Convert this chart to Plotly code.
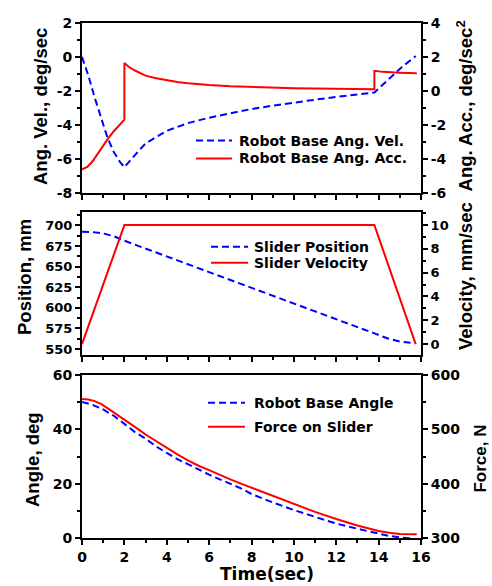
import plotly.graph_objects as go

# ---------------- data ----------------
# Robot base angular velocity (deg/sec)
vel_t = [0.0, 0.3, 0.6, 0.9, 1.2, 1.5, 1.8, 2.0, 2.3, 2.7, 3.0, 3.5, 4.0, 5.0, 6.0, 7.0,
         8.0, 9.0, 10.0, 11.0, 12.0, 13.0, 13.8, 14.5, 15.1, 15.75]
ang_vel = [0.0, -1.1, -2.4, -3.65, -4.75, -5.6, -6.2, -6.5, -6.05, -5.5, -5.1, -4.7, -4.35,
           -3.9, -3.58, -3.32, -3.07, -2.87, -2.68, -2.52, -2.36, -2.22, -2.1, -1.28, -0.6, 0.05]

# Robot base angular acceleration (deg/sec^2)
acc_t = [0.0, 0.25, 0.5, 0.75, 1.0, 1.25, 1.5, 1.75, 2.0, 2.0, 2.2, 2.5, 3.0, 3.5, 4.0, 4.5,
         5.0, 5.5, 6.0, 7.0, 8.0, 9.0, 10.0, 11.0, 12.0, 13.0, 13.8, 13.8, 14.2, 15.0, 15.8]
ang_acc = [-4.62, -4.48, -4.15, -3.7, -3.2, -2.77, -2.38, -2.02, -1.7, 1.65, 1.42, 1.2, 0.9,
           0.75, 0.63, 0.52, 0.45, 0.39, 0.35, 0.28, 0.23, 0.19, 0.16, 0.14, 0.12, 0.1, 0.09,
           1.18, 1.12, 1.07, 1.04]

# Slider position (mm) and velocity (mm/sec)
pos_t = [0.0, 0.5, 1.0, 1.5, 2.0, 3.0, 4.0, 5.0, 6.0, 7.0, 8.0, 9.0, 10.0, 11.0, 12.0, 13.0,
         13.8, 14.4, 15.0, 15.7]
slider_pos = [692.5, 692.0, 690.3, 687.0, 681.5, 672.0, 662.5, 653.0, 643.5, 634.0, 624.5,
              615.0, 605.5, 596.0, 587.0, 577.5, 569.0, 563.0, 559.0, 557.0]
sv_t = [0.0, 2.0, 13.8, 15.75]
slider_vel = [0.0, 10.0, 10.0, 0.0]

# Robot base angle (deg)
angle_t = [0.0, 0.5, 1.0, 1.5, 2.0, 2.5, 3.0, 3.5, 4.0, 4.5, 5.0, 5.5, 6.0, 6.5, 7.0, 7.5,
           8.0, 9.0, 10.0, 11.0, 12.0, 13.0, 14.0, 14.5, 15.0, 15.5]
base_angle = [50.1, 49.0, 47.3, 45.0, 42.0, 39.0, 36.6, 33.7, 31.3, 29.0, 27.2, 25.2, 23.3,
              21.6, 19.9, 18.3, 16.2, 13.1, 10.3, 7.8, 5.3, 3.4, 1.6, 0.75, 0.2, -0.1]

# Force on slider (N)
force_t = [0.0, 0.3, 0.6, 0.9, 1.2, 1.5, 1.8, 2.0, 2.3, 2.7, 3.0, 3.5, 4.0, 4.5, 5.0, 5.5,
           6.0, 6.5, 7.0, 7.5, 8.0, 9.0, 10.0, 11.0, 12.0, 13.0, 14.0, 14.5, 15.0, 15.4, 15.8]
force = [556, 555, 552, 547, 539, 531, 523, 519, 510, 499, 490.5, 478, 466, 454, 443, 433,
         425, 416, 408, 400, 392.5, 377.5, 362.5, 348, 335, 323, 313, 309.5, 307.5, 307, 307]

time_ticks = list(range(0, 17, 2))

BLUE = "#0000ff"
RED = "#ff0000"
DASH = "7px,4px"
TICK_FONT = dict(family="DejaVu Sans", size=14, color="black", weight="bold")
TITLE_FONT = dict(family="Liberation Sans", size=18.5, color="black")
LEG_FONT = dict(family="DejaVu Sans", size=14, color="black")

# ---------------- traces ----------------
fig = go.Figure()
fig.add_trace(go.Scatter(x=vel_t, y=ang_vel, xaxis="x", yaxis="y", mode="lines",
                         line=dict(color=BLUE, width=2, dash=DASH)))
fig.add_trace(go.Scatter(x=acc_t, y=ang_acc, xaxis="x", yaxis="y2", mode="lines",
                         line=dict(color=RED, width=2)))
fig.add_trace(go.Scatter(x=pos_t, y=slider_pos, xaxis="x2", yaxis="y3", mode="lines",
                         line=dict(color=BLUE, width=2, dash=DASH)))
fig.add_trace(go.Scatter(x=sv_t, y=slider_vel, xaxis="x2", yaxis="y4", mode="lines",
                         line=dict(color=RED, width=2)))
fig.add_trace(go.Scatter(x=angle_t, y=base_angle, xaxis="x3", yaxis="y5", mode="lines",
                         line=dict(color=BLUE, width=2, dash=DASH)))
fig.add_trace(go.Scatter(x=force_t, y=force, xaxis="x3", yaxis="y6", mode="lines",
                         line=dict(color=RED, width=2)))

# ---------------- axes ----------------
common = dict(showline=True, linewidth=2, linecolor="black", ticks="outside", ticklen=5,
              tickwidth=1.5, tickcolor="black", showgrid=False, zeroline=False,
              tickfont=TICK_FONT)


def xax(anchor, labels):
    return dict(common, domain=[0, 1], range=[0, 16], anchor=anchor, mirror=True,
                tickvals=time_ticks, ticktext=[str(v) for v in time_ticks],
                showticklabels=labels,
                minor=dict(dtick=1, ticks="outside", ticklen=3, tickcolor="black"))


def yax(dom, rng, vals, minor, side="left", overlay=None, anchor="x", size=14):
    d = dict(common, range=rng, tickvals=vals, ticktext=[f"{v:g}" for v in vals],
             side=side, anchor=anchor,
             tickfont=dict(TICK_FONT, size=size),
             minor=dict(dtick=minor, ticks="outside", ticklen=3, tickcolor="black"))
    if overlay:
        d["overlaying"] = overlay
    else:
        d["domain"] = dom
    return d


D1 = [0.6705, 1.0]
D2 = [0.3553, 0.6324]
D3 = [0.0, 0.3165]

fig.update_layout(
    width=492, height=586,
    margin=dict(l=82, r=71, t=23, b=48),
    paper_bgcolor="white", plot_bgcolor="white",
    showlegend=False,
    xaxis=xax("y", False),
    xaxis2=xax("y3", False),
    xaxis3=xax("y5", True),
    yaxis=yax(D1, [-8, 2], list(range(-8, 3, 2)), 1, anchor="x"),
    yaxis2=yax(D1, [-6, 4], list(range(-6, 5, 2)), 1, side="right", overlay="y", anchor="x"),
    yaxis3=yax(D2, [542.7, 716], list(range(550, 701, 25)), 12.5, anchor="x2", size=13),
    yaxis4=yax(D2, [-0.92, 11.07], list(range(0, 11, 2)), 1, side="right", overlay="y3", anchor="x2", size=13),
    yaxis5=yax(D3, [0, 60], list(range(0, 61, 20)), 10, anchor="x3"),
    yaxis6=yax(D3, [300, 600], list(range(300, 601, 100)), 50, side="right", overlay="y5", anchor="x3"),
)

# ---------------- axis titles ----------------
titles = [
    ("Ang. Vel., deg/sec", -0.1239, 0.8388, 18.5),
    ("Ang. Acc., deg/sec<sup>2</sup>", 1.1298, 0.838, 18.5),
    ("Position, mm", -0.1681, 0.5068, 18.5),
    ("Velocity, mm/sec", 1.1298, 0.5087, 18.5),
    ("Angle, deg", -0.1445, 0.1515, 18.5),
    ("Force, N", 1.1755, 0.1553, 17),
]
for text, x, y, size in titles:
    fig.add_annotation(text=f"<b>{text}</b>", x=x, y=y, xref="paper", yref="paper",
                       xanchor="center", yanchor="middle", textangle=-90, showarrow=False,
                       font=dict(TITLE_FONT, size=size))

fig.add_annotation(text="<b>Time(sec)</b>", x=0.5457, y=-0.0699, xref="paper", yref="paper",
                   xanchor="center", yanchor="middle", showarrow=False,
                   font=dict(family="DejaVu Sans", size=17, color="black"))

# ---------------- in-panel legends ----------------
legends = [
    # (x0, x1, text_x, [(y, label, colour, dashed), ...])
    (0.3363, 0.4425, 0.4572, [(0.7718, "Robot Base Ang. Vel.", BLUE, True),
                              (0.7369, "Robot Base Ang. Acc.", RED, False)]),
    (0.3805, 0.4897, 0.5006, [(0.5656, "Slider Position", BLUE, True),
                              (0.5346, "Slider Velocity", RED, False)]),
    (0.3717, 0.4808, 0.5006, [(0.2627, "Robot Base Angle", BLUE, True),
                              (0.2161, "Force on Slider", RED, False)]),
]
for x0, x1, tx, rows in legends:
    for y, label, colour, dashed in rows:
        fig.add_shape(type="line", xref="paper", yref="paper", x0=x0, x1=x1, y0=y, y1=y,
                      line=dict(color=colour, width=2, dash=DASH if dashed else "solid"))
        fig.add_annotation(text=f"<b>{label}</b>", x=tx, y=y, xref="paper", yref="paper",
                           xanchor="left", yanchor="middle", showarrow=False, font=LEG_FONT)

fig.write_html("out.html")
